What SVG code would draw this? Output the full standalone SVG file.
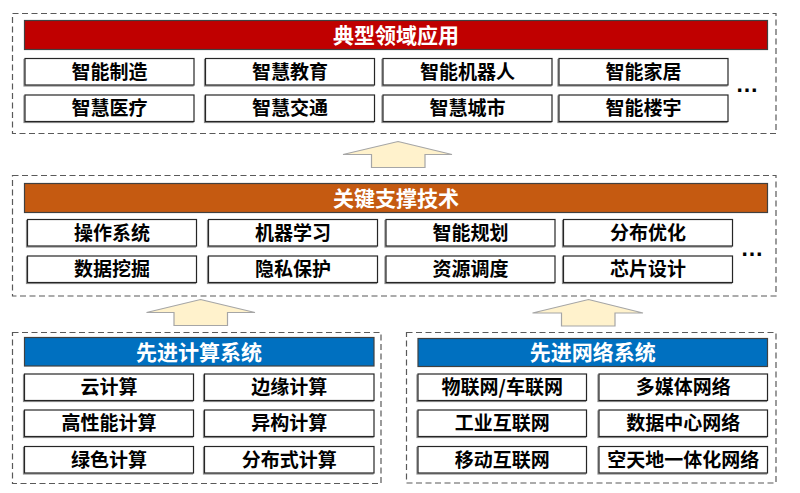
<svg xmlns="http://www.w3.org/2000/svg" width="800" height="493" viewBox="0 0 800 493">
<defs>
<style>
.frame{fill:none;stroke:#595959;stroke-width:1.2;stroke-dasharray:6 3.5}
.item{fill:#fff;stroke:#262626;stroke-width:1.2;filter:url(#sh)}
.it{font-family:"Noto Sans CJK SC","Noto Sans",sans-serif;font-weight:bold;font-size:19px;fill:#000;text-anchor:middle}
.tt{font-family:"Noto Sans CJK SC","Noto Sans",sans-serif;font-weight:bold;font-size:21px;fill:#fff;text-anchor:middle}
.hd{stroke:#404040;stroke-width:1.2}
.arrow{fill:#FFF2CC;stroke:#A6A6A6;stroke-width:1.2}
.dots{font-family:"Liberation Sans",sans-serif;font-weight:bold;font-size:23px;fill:#000;text-anchor:middle}
</style>
<filter id="sh" x="-5%" y="-20%" width="110%" height="140%">
<feDropShadow dx="-1" dy="1" stdDeviation="0.4" flood-color="#808080" flood-opacity="0.9"/>
</filter>
</defs>
<rect width="800" height="493" fill="#fff"/>

<g id="apps">
<rect class="frame" x="12.5" y="13.5" width="763.5" height="120"/>
<rect class="hd" x="24.5" y="20.5" width="743" height="29" fill="#C00000"/>
<text class="tt" x="396" y="42.8">典型领域应用</text>
<rect class="item" x="25" y="58.5" width="169" height="26.5"/><text class="it" x="109.5" y="78.5">智能制造</text>
<rect class="item" x="205.5" y="58.5" width="169" height="26.5"/><text class="it" x="290" y="78.5">智慧教育</text>
<rect class="item" x="383" y="58.5" width="169" height="26.5"/><text class="it" x="467.5" y="78.5">智能机器人</text>
<rect class="item" x="559" y="58.5" width="169" height="26.5"/><text class="it" x="643.5" y="78.5">智能家居</text>
<rect class="item" x="25" y="95" width="169" height="26.5"/><text class="it" x="109.5" y="115">智慧医疗</text>
<rect class="item" x="205.5" y="95" width="169" height="26.5"/><text class="it" x="290" y="115">智慧交通</text>
<rect class="item" x="383" y="95" width="169" height="26.5"/><text class="it" x="467.5" y="115">智慧城市</text>
<rect class="item" x="559" y="95" width="169" height="26.5"/><text class="it" x="643.5" y="115">智能楼宇</text>
<text class="dots" x="747" y="92">…</text>
</g>

<g id="tech">
<rect class="frame" x="12.5" y="175.5" width="763.5" height="120.5"/>
<rect class="hd" x="24.5" y="183.5" width="743" height="29" fill="#C55A11"/>
<text class="tt" x="396" y="205.8">关键支撑技术</text>
<rect class="item" x="27.5" y="219.5" width="169" height="26.5"/><text class="it" x="112" y="239.5">操作系统</text>
<rect class="item" x="208.5" y="219.5" width="169" height="26.5"/><text class="it" x="293" y="239.5">机器学习</text>
<rect class="item" x="386" y="219.5" width="169" height="26.5"/><text class="it" x="470.5" y="239.5">智能规划</text>
<rect class="item" x="563.5" y="219.5" width="169" height="26.5"/><text class="it" x="648" y="239.5">分布优化</text>
<rect class="item" x="27.5" y="256" width="169" height="26.5"/><text class="it" x="112" y="276">数据挖掘</text>
<rect class="item" x="208.5" y="256" width="169" height="26.5"/><text class="it" x="293" y="276">隐私保护</text>
<rect class="item" x="386" y="256" width="169" height="26.5"/><text class="it" x="470.5" y="276">资源调度</text>
<rect class="item" x="563.5" y="256" width="169" height="26.5"/><text class="it" x="648" y="276">芯片设计</text>
<text class="dots" x="752" y="256">…</text>
</g>

<g id="compute">
<rect class="frame" x="12.5" y="332.5" width="368.5" height="151"/>
<rect class="hd" x="24.5" y="337.5" width="349.5" height="28.5" fill="#0070C0"/>
<text class="tt" x="199" y="359.5">先进计算系统</text>
<rect class="item" x="24.5" y="374" width="169" height="26.5"/><text class="it" x="109" y="394">云计算</text>
<rect class="item" x="204.5" y="374" width="169.5" height="26.5"/><text class="it" x="289.3" y="394">边缘计算</text>
<rect class="item" x="24.5" y="410" width="169" height="26.5"/><text class="it" x="109" y="430">高性能计算</text>
<rect class="item" x="204.5" y="410" width="169.5" height="26.5"/><text class="it" x="289.3" y="430">异构计算</text>
<rect class="item" x="24.5" y="446.5" width="169" height="26.5"/><text class="it" x="109" y="466.5">绿色计算</text>
<rect class="item" x="204.5" y="446.5" width="169.5" height="26.5"/><text class="it" x="289.3" y="466.5">分布式计算</text>
</g>

<g id="network">
<rect class="frame" x="406.5" y="332.5" width="369.5" height="150.5"/>
<rect class="hd" x="418" y="338.5" width="349.5" height="28" fill="#0070C0"/>
<text class="tt" x="592.8" y="360.3">先进网络系统</text>
<rect class="item" x="418" y="374" width="168.5" height="26.5"/><text class="it" x="502.3" y="394">物联网/车联网</text>
<rect class="item" x="599" y="374" width="168.5" height="26.5"/><text class="it" x="683.3" y="394">多媒体网络</text>
<rect class="item" x="418" y="410" width="168.5" height="26.5"/><text class="it" x="502.3" y="430">工业互联网</text>
<rect class="item" x="599" y="410" width="168.5" height="26.5"/><text class="it" x="683.3" y="430">数据中心网络</text>
<rect class="item" x="418" y="446.5" width="168.5" height="26.5"/><text class="it" x="502.3" y="466.5">移动互联网</text>
<rect class="item" x="599" y="446.5" width="168.5" height="26.5"/><text class="it" x="683.3" y="466.5">空天地一体化网络</text>
</g>

<g id="connectors">
<polygon class="arrow" points="398,141.5 452,154.5 425,154.5 425,167.5 371.5,167.5 371.5,154.5 343,154.5"/>
<polygon class="arrow" points="200.5,299.5 255,312.5 227.5,312.5 227.5,325.5 174,325.5 174,312.5 146.5,312.5"/>
<polygon class="arrow" points="588.5,299.5 643,313 615,313 615,326 561.5,326 561.5,313 532.5,313"/>
</g>
</svg>
